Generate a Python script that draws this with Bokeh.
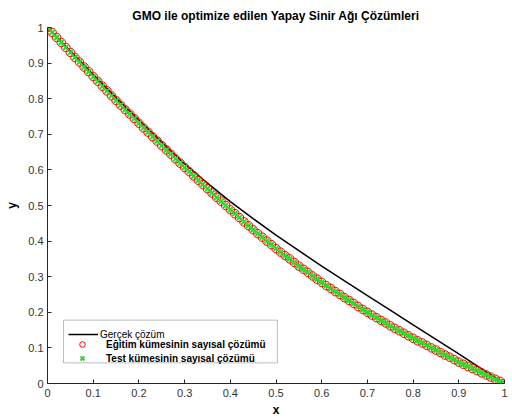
from bokeh.plotting import figure
from bokeh.models import Legend, LegendItem, BoxAnnotation, Range1d, FixedTicker
from bokeh.embed import file_html
from bokeh.resources import INLINE

# ---- data ----
x_true = [0.00, 0.05, 0.10, 0.15, 0.20, 0.25, 0.30, 0.35, 0.40, 0.45, 0.50,
          0.55, 0.60, 0.65, 0.70, 0.75, 0.80, 0.85, 0.90, 0.95, 1.00]
y_true = [1.000, 0.934, 0.868, 0.803, 0.740, 0.678, 0.617, 0.563, 0.511, 0.463, 0.417,
          0.373, 0.330, 0.288, 0.247, 0.206, 0.165, 0.124, 0.083, 0.041, 0.000]

x_num = [round(0.01 * i, 2) for i in range(101)]
y_num = [1.000, 0.986, 0.972, 0.958, 0.944,
         0.930, 0.916, 0.903, 0.889, 0.876,
         0.862, 0.849, 0.835, 0.822, 0.808,
         0.795, 0.782, 0.769, 0.757, 0.744,
         0.731, 0.718, 0.706, 0.693, 0.681,
         0.668, 0.656, 0.644, 0.631, 0.619,
         0.607, 0.595, 0.583, 0.571, 0.559,
         0.547, 0.535, 0.523, 0.512, 0.500,
         0.488, 0.477, 0.466, 0.454, 0.443,
         0.432, 0.421, 0.411, 0.400, 0.390,
         0.379, 0.369, 0.359, 0.350, 0.340,
         0.330, 0.321, 0.312, 0.302, 0.293,
         0.284, 0.275, 0.267, 0.258, 0.250,
         0.241, 0.233, 0.225, 0.216, 0.208,
         0.200, 0.192, 0.185, 0.177, 0.170,
         0.162, 0.155, 0.148, 0.141, 0.134,
         0.127, 0.120, 0.114, 0.107, 0.100,
         0.094, 0.087, 0.080, 0.074, 0.067,
         0.060, 0.054, 0.048, 0.042, 0.036,
         0.030, 0.024, 0.018, 0.012, 0.006, 0.000]
x_test = x_num
y_test = y_num

x_ticks = [0, 0.1, 0.2, 0.3, 0.4, 0.5, 0.6, 0.7, 0.8, 0.9, 1]
y_ticks = [0, 0.1, 0.2, 0.3, 0.4, 0.5, 0.6, 0.7, 0.8, 0.9, 1]
tick_text = {0: "0", 0.1: "0.1", 0.2: "0.2", 0.3: "0.3", 0.4: "0.4", 0.5: "0.5",
             0.6: "0.6", 0.7: "0.7", 0.8: "0.8", 0.9: "0.9", 1: "1"}

title = "GMO ile optimize edilen Yapay Sinir Ağı Çözümleri"
lbl_true = "Gerçek çözüm"
lbl_train = "Eğitim kümesinin sayısal çözümü"
lbl_test = "Test kümesinin sayısal çözümü"

FONT = "Liberation Sans"
AX = "#262626"

p = figure(width=512, height=419, output_backend="svg", toolbar_location=None,
           x_range=Range1d(0, 1), y_range=Range1d(0, 1),
           min_border_left=47, min_border_right=8, min_border_top=27, min_border_bottom=32)
p.outline_line_color = None
p.grid.visible = False
p.background_fill_color = "white"
p.border_fill_color = "white"

p.title.text = title
p.title.text_font = FONT
p.title.text_font_size = "12px"
p.title.text_font_style = "bold"
p.title.align = "center"
p.title.text_color = "black"

for ax, ticks in ((p.xaxis[0], x_ticks), (p.yaxis[0], y_ticks)):
    ax.ticker = FixedTicker(ticks=ticks)
    ax.major_label_overrides = tick_text
    ax.major_tick_in = 4
    ax.major_tick_out = 0
    ax.minor_tick_line_color = None
    ax.axis_line_color = AX
    ax.major_tick_line_color = AX
    ax.major_label_text_font = FONT
    ax.major_label_text_font_size = "11px"
    ax.major_label_text_color = "#333333"
    ax.axis_label_text_font = FONT
    ax.axis_label_text_font_size = "12px"
    ax.axis_label_text_font_style = "bold"
    ax.axis_label_text_color = "black"

p.xaxis.axis_label = "x"
p.yaxis.axis_label = "y"
p.xaxis.major_label_standoff = 5
p.xaxis.axis_label_standoff = 3
p.yaxis.major_label_standoff = 4
p.yaxis.axis_label_standoff = 6

r_true = p.line(x_true, y_true, line_color="black", line_width=1.5)
r_train = p.scatter(x_num, y_num, marker="circle", size=8.5, fill_color=None,
                    line_color="#ff0000", line_width=1)
r_test = p.scatter(x_test, y_test, marker="x", size=7, line_color="#22e022", line_width=2)

box = BoxAnnotation(left=0.035, right=0.503, bottom=0.058, top=0.178,
                    fill_color="white", fill_alpha=1.0, line_color=AX, line_width=1,
                    level="overlay")
p.add_layout(box)

leg1 = Legend(items=[LegendItem(label=lbl_true, renderers=[r_true])],
              location=(21, 43), border_line_color=None, background_fill_alpha=0,
              padding=0, margin=0, spacing=0, glyph_width=30, glyph_height=12,
              label_height=12, label_standoff=2, label_text_font=FONT,
              label_text_font_size="10px", label_text_color="black")
leg2 = Legend(items=[LegendItem(label=lbl_train, renderers=[r_train]),
                     LegendItem(label=lbl_test, renderers=[r_test])],
              location=(23, 18), border_line_color=None, background_fill_alpha=0,
              padding=0, margin=0, spacing=0, glyph_width=24, glyph_height=14,
              label_height=14, label_standoff=12, label_text_font=FONT,
              label_text_font_size="10px", label_text_font_style="bold",
              label_text_color="black")
p.add_layout(leg1)
p.add_layout(leg2)

open("out.html", "w").write(file_html(p, INLINE))
